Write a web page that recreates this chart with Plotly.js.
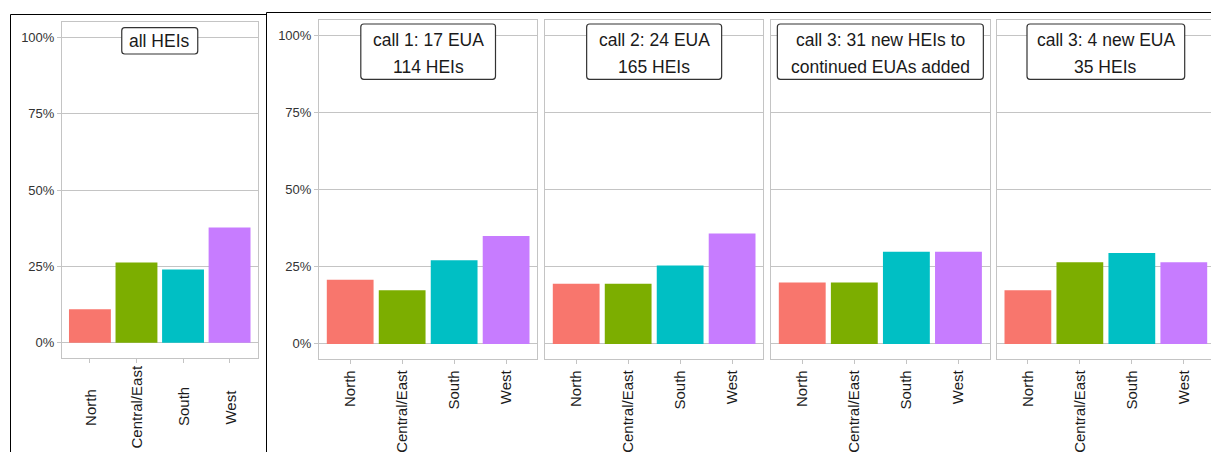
<!DOCTYPE html>
<html>
<head>
<meta charset="utf-8">
<script src="https://cdn.plot.ly/plotly-3.0.1.min.js"></script>
<style>
  html, body { margin: 0; padding: 0; background: #fff; overflow: hidden; }
  #wrap { width: 1211px; height: 452px; overflow: hidden; }
  #chart { width: 1216px; height: 452px; }
</style>
</head>
<body>
<div id="wrap"><div id="chart"></div></div>
<script>
// ---- data ----
const regions = ['North', 'Central/East', 'South', 'West'];
const allHEIs = [0.110, 0.263, 0.240, 0.377];
const call1 = [0.208, 0.174, 0.271, 0.350];
const call2 = [0.195, 0.195, 0.254, 0.358];
const call3NewHEIs = [0.199, 0.199, 0.299, 0.299];
const call3NewEUA = [0.174, 0.265, 0.295, 0.265];
const leftLabel = 'all HEIs';
const facetLabels = [
  ['call 1: 17 EUA', '114 HEIs'],
  ['call 2: 24 EUA', '165 HEIs'],
  ['call 3: 31 new HEIs to', 'continued EUAs added'],
  ['call 3: 4 new EUA', '35 HEIs']
];
const yTickVals = [0, 0.25, 0.5, 0.75, 1];
const yTickText = ['0%', '25%', '50%', '75%', '100%'];

// ---- layout helpers ----
const W = 1216, H = 452;
const px = x => x / W;
const py = y => 1 - y / H;
const barColors = ['#F8766D', '#7CAE00', '#00BFC4', '#C77CFF'];
const FONT = 'Arial, "Liberation Sans", sans-serif';
const GRID = '#c4c4c4';

const facetData = [call1, call2, call3NewHEIs, call3NewEUA];
const facetX = [[319, 537.3], [545, 763.3], [771, 989.7], [996.7, 1215]];
const facetBoxW = [134.7, 135, 206, 157.7];

function roundRect(x0, y0, x1, y1, r) {
  const X = v => px(v).toFixed(6), Y = v => py(v).toFixed(6);
  return 'M' + X(x0 + r) + ',' + Y(y0) +
    ' L' + X(x1 - r) + ',' + Y(y0) +
    ' Q' + X(x1) + ',' + Y(y0) + ' ' + X(x1) + ',' + Y(y0 + r) +
    ' L' + X(x1) + ',' + Y(y1 - r) +
    ' Q' + X(x1) + ',' + Y(y1) + ' ' + X(x1 - r) + ',' + Y(y1) +
    ' L' + X(x0 + r) + ',' + Y(y1) +
    ' Q' + X(x0) + ',' + Y(y1) + ' ' + X(x0) + ',' + Y(y1 - r) +
    ' L' + X(x0) + ',' + Y(y0 + r) +
    ' Q' + X(x0) + ',' + Y(y0) + ' ' + X(x0 + r) + ',' + Y(y0) + ' Z';
}

function xAxis(domain, showLabels) {
  return {
    domain: domain,
    type: 'category',
    categoryorder: 'array',
    categoryarray: regions,
    range: [-0.6, 3.6],
    showgrid: false,
    zeroline: false,
    showline: true,
    mirror: true,
    linecolor: GRID,
    linewidth: 1,
    ticks: 'outside',
    ticklen: 4,
    tickcolor: GRID,
    tickwidth: 1,
    showticklabels: showLabels,
    tickangle: -90,
    tickfont: { family: FONT, size: 15, color: '#1a1a1a' },
    fixedrange: true
  };
}
function yAxis(domain, anchor, showLabels) {
  return {
    domain: domain,
    anchor: anchor,
    range: [-0.05, 1.05],
    tickvals: yTickVals,
    ticktext: yTickText,
    showticklabels: showLabels,
    showgrid: true,
    gridcolor: GRID,
    gridwidth: 1,
    zeroline: false,
    showline: true,
    mirror: true,
    linecolor: GRID,
    linewidth: 1,
    ticks: showLabels ? 'outside' : '',
    ticklen: 4,
    tickcolor: GRID,
    tickfont: { family: FONT, size: 13, color: '#333' },
    fixedrange: true
  };
}

const traces = [{
  type: 'bar', x: regions, y: allHEIs, xaxis: 'x', yaxis: 'y',
  width: 0.9, marker: { color: barColors, line: { width: 0 } },
  hoverinfo: 'x+y', showlegend: false
}];
facetData.forEach((vals, i) => {
  traces.push({
    type: 'bar', x: regions, y: vals,
    xaxis: 'x' + (i + 2), yaxis: 'y' + (i + 2),
    width: 0.9, marker: { color: barColors, line: { width: 0 } },
    hoverinfo: 'x+y', showlegend: false
  });
});

const layout = {
  width: W, height: H,
  margin: { l: 0, r: 0, t: 0, b: 0 },
  paper_bgcolor: '#fff', plot_bgcolor: '#fff',
  bargap: 0.1,
  showlegend: false,
  font: { family: FONT },
  xaxis: xAxis([px(62), px(257.5)], false),
  yaxis: yAxis([py(358), py(22)], 'x', true),
  annotations: [],
  shapes: []
};
facetData.forEach((vals, i) => {
  const n = i + 2;
  layout['xaxis' + n] = Object.assign(xAxis([px(facetX[i][0]), px(facetX[i][1])], true), { anchor: 'y' + n });
  layout['yaxis' + n] = yAxis([py(359.3), py(20)], 'x' + n, i === 0);
});

// left panel x labels (centered, rotated)
regions.forEach(r => {
  layout.annotations.push({
    xref: 'x', yref: 'paper', x: r, y: py(407),
    text: r, textangle: -90, showarrow: false,
    xanchor: 'center', yanchor: 'middle',
    font: { family: FONT, size: 15, color: '#1a1a1a' }
  });
});

// left label box
{
  const cx = (62 + 257.5) / 2, w = 76;
  layout.shapes.push({
    type: 'path', xref: 'paper', yref: 'paper',
    path: roundRect(cx - w / 2, 27.7, cx + w / 2, 54, 3),
    line: { color: '#333', width: 1.2 }, fillcolor: '#fff', layer: 'above'
  });
  layout.annotations.push({
    xref: 'paper', yref: 'paper', x: px(cx), y: py(41.3),
    text: leftLabel, showarrow: false, xanchor: 'center', yanchor: 'middle',
    font: { family: FONT, size: 17.5, color: '#1a1a1a' }
  });
}

// facet label boxes
facetLabels.forEach((lines, i) => {
  const cx = (facetX[i][0] + facetX[i][1]) / 2, w = facetBoxW[i];
  layout.shapes.push({
    type: 'path', xref: 'paper', yref: 'paper',
    path: roundRect(cx - w / 2, 24, cx + w / 2, 79.3, 3),
    line: { color: '#333', width: 1.2 }, fillcolor: '#fff', layer: 'above'
  });
  lines.forEach((t, j) => {
    layout.annotations.push({
      xref: 'paper', yref: 'paper', x: px(cx), y: py(j === 0 ? 40.5 : 67),
      text: t, showarrow: false, xanchor: 'center', yanchor: 'middle',
      font: { family: FONT, size: 17.5, color: '#1a1a1a' }
    });
  });
});

// outer frames
layout.shapes.push({
  type: 'path', xref: 'paper', yref: 'paper', layer: 'above',
  path: 'M' + px(10.5) + ',' + py(452) + ' L' + px(10.5) + ',' + py(14.5) +
        ' L' + px(266.5) + ',' + py(14.5),
  line: { color: '#000', width: 1 }
});
layout.shapes.push({
  type: 'path', xref: 'paper', yref: 'paper', layer: 'above',
  path: 'M' + px(266.5) + ',' + py(452) + ' L' + px(266.5) + ',' + py(12.5) +
        ' L' + px(1216) + ',' + py(12.5),
  line: { color: '#000', width: 1 }
});

Plotly.newPlot('chart', traces, layout, { displayModeBar: false, staticPlot: true });
</script>
</body>
</html>
